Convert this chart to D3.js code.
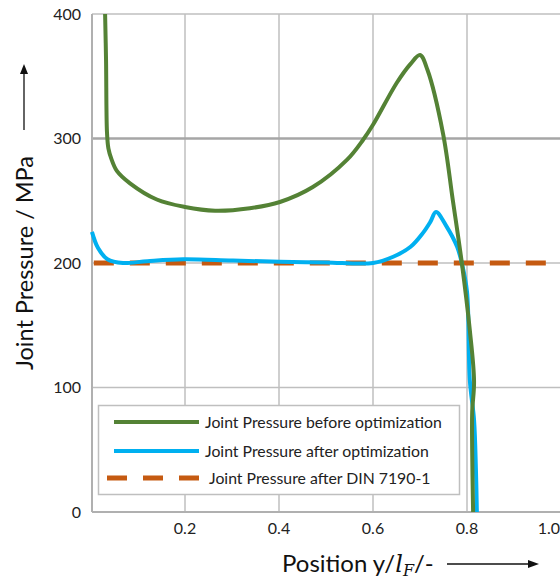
<!DOCTYPE html>
<html>
<head>
<meta charset="utf-8">
<script src="https://cdn.jsdelivr.net/npm/d3@7"></script>
<style>
  body { margin: 0; background: #fff; }
  svg { display: block; font-family: Lato, "Open Sans", sans-serif; }
</style>
</head>
<body>
<svg id="chart" width="560" height="579"></svg>
<script>
// values
const xTicks = [0.2, 0.4, 0.6, 0.8, 1.0];
const yTicks = [0, 100, 200, 300, 400];

const before = [
  [0.030, 400], [0.032, 363], [0.034, 305], [0.037, 292], [0.043, 284],
  [0.055, 274], [0.083, 264], [0.140, 251], [0.200, 245], [0.264, 242],
  [0.338, 244], [0.402, 249], [0.472, 261], [0.545, 283], [0.579, 299],
  [0.600, 311], [0.651, 345], [0.680, 360], [0.700, 367], [0.716, 355],
  [0.749, 304], [0.770, 250], [0.789, 200], [0.806, 146], [0.815, 105],
  [0.811, 80], [0.811, 50], [0.813, 0]
];
const after = [
  [0.002, 225], [0.015, 212], [0.035, 203], [0.068, 200], [0.120, 201.5],
  [0.196, 203], [0.300, 202], [0.402, 201], [0.500, 200.5], [0.600, 200],
  [0.643, 205], [0.680, 213], [0.706, 224], [0.722, 233], [0.734, 241],
  [0.757, 229], [0.779, 213], [0.789, 200], [0.800, 177], [0.806, 106],
  [0.815, 74], [0.819, 34], [0.821, 0]
];
const din = [[0.006, 200], [0.968, 200]];

const legendLabels = [
  "Joint Pressure before optimization",
  "Joint Pressure after optimization",
  "Joint Pressure after DIN 7190-1"
];

const svg = d3.select("#chart");
const x = d3.scaleLinear().domain([0, 1]).range([91, 561]);
const y = d3.scaleLinear().domain([0, 400]).range([512, 14]);

// grid
svg.append("g")
  .selectAll("line")
  .data(xTicks)
  .join("line")
    .attr("x1", d => x(d)).attr("x2", d => x(d))
    .attr("y1", y(400)).attr("y2", y(0))
    .attr("stroke", "#bfbfbf").attr("stroke-width", 1.5);

svg.append("g")
  .selectAll("line")
  .data(yTicks.filter(d => d > 0))
  .join("line")
    .attr("x1", 92).attr("x2", 560)
    .attr("y1", d => y(d)).attr("y2", d => y(d))
    .attr("stroke", d => d === 300 ? "#a6a6a6" : "#bfbfbf")
    .attr("stroke-width", d => d === 300 ? 2.5 : 1.5);

// axis lines
svg.append("line")
  .attr("x1", 92).attr("x2", 92).attr("y1", y(400)).attr("y2", y(0))
  .attr("stroke", "#b0b0b0").attr("stroke-width", 2);
svg.append("line")
  .attr("x1", 92).attr("x2", 560).attr("y1", y(0)).attr("y2", y(0))
  .attr("stroke", "#b0b0b0").attr("stroke-width", 2);

// tick labels
svg.append("g")
  .selectAll("text")
  .data(yTicks)
  .join("text")
    .attr("x", 81).attr("y", d => y(d))
    .attr("dy", "0.35em")
    .attr("text-anchor", "end")
    .attr("font-size", 16).attr("fill", "#222")
    .text(d => d);

// the last label sits at the right edge of the picture
svg.append("g")
  .selectAll("text")
  .data(xTicks)
  .join("text")
    .attr("x", d => d === 1 ? 560 : x(d)).attr("y", 534)
    .attr("text-anchor", d => d === 1 ? "end" : "middle")
    .attr("font-size", 16).attr("fill", "#222")
    .text(d => d.toFixed(1));

// curves
const line = d3.line()
  .x(d => x(d[0]))
  .y(d => y(d[1]))
  .curve(d3.curveCatmullRom.alpha(0.5));

svg.append("path").datum(din)
  .attr("d", d3.line().x(d => x(d[0])).y(d => y(d[1])))
  .attr("fill", "none").attr("stroke", "#c55a11")
  .attr("stroke-width", 5).attr("stroke-dasharray", "20,16");

svg.append("path").datum(after)
  .attr("d", line)
  .attr("fill", "none").attr("stroke", "#00b0f0").attr("stroke-width", 4);

svg.append("path").datum(before)
  .attr("d", line)
  .attr("fill", "none").attr("stroke", "#548235").attr("stroke-width", 4);

// legend
const legend = svg.append("g");
legend.append("rect")
  .attr("x", 98.5).attr("y", 405.5).attr("width", 361).attr("height", 89)
  .attr("fill", "#fff").attr("stroke", "#bfbfbf").attr("stroke-width", 1.5);

const legendRows = [
  { label: legendLabels[0], color: "#548235", dash: null, x1: 114, tx: 205, y: 422 },
  { label: legendLabels[1], color: "#00b0f0", dash: null, x1: 114, tx: 205, y: 451 },
  { label: legendLabels[2], color: "#c55a11", dash: "20,16", x1: 107, tx: 209, y: 478 }
];
legend.selectAll("line")
  .data(legendRows)
  .join("line")
    .attr("x1", d => d.x1).attr("x2", 199)
    .attr("y1", d => d.y).attr("y2", d => d.y)
    .attr("stroke", d => d.color)
    .attr("stroke-width", d => d.dash ? 5 : 4)
    .attr("stroke-dasharray", d => d.dash);
legend.selectAll("text")
  .data(legendRows)
  .join("text")
    .attr("x", d => d.tx).attr("y", d => d.y)
    .attr("dy", "0.35em")
    .attr("font-size", 15.8).attr("fill", "#222")
    .text(d => d.label);

// axis titles with arrows
svg.append("text")
  .attr("transform", "translate(33,263) rotate(-90)")
  .attr("text-anchor", "middle")
  .attr("font-size", 23.5).attr("fill", "#111")
  .text("Joint Pressure / MPa");

svg.append("line")
  .attr("x1", 24).attr("x2", 24).attr("y1", 130).attr("y2", 72)
  .attr("stroke", "#111").attr("stroke-width", 1.3);
svg.append("path")
  .attr("d", "M24,64 L20,74 L28,74 Z").attr("fill", "#111");

const xt = svg.append("text")
  .attr("x", 282).attr("y", 572)
  .attr("font-size", 24).attr("fill", "#111");
xt.append("tspan").text("Position y/");
xt.append("tspan").attr("font-family", "'DejaVu Serif', serif").attr("font-style", "italic").text("l");
xt.append("tspan").attr("font-family", "'DejaVu Serif', serif").attr("font-style", "italic")
  .attr("font-size", 16).attr("dy", 4).text("F");
xt.append("tspan").attr("dy", -4).text("/-");

svg.append("line")
  .attr("x1", 447).attr("x2", 530).attr("y1", 564).attr("y2", 564)
  .attr("stroke", "#111").attr("stroke-width", 1.3);
svg.append("path")
  .attr("d", "M539,564 L528,560 L528,568 Z").attr("fill", "#111");
</script>
</body>
</html>
